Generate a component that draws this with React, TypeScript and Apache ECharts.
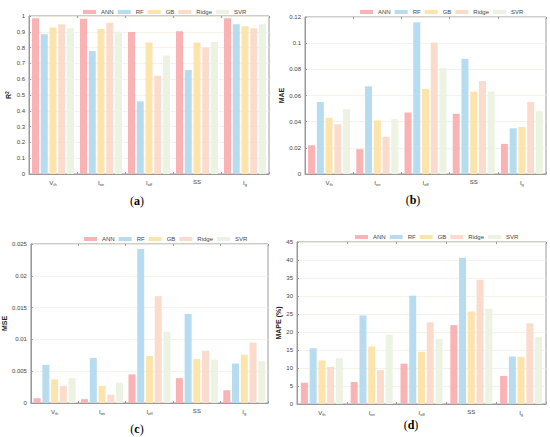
import React, { useEffect, useRef } from "react";
import * as echarts from "echarts";

const categories = ["V|th", "I|on", "I|off", "SS", "I|g"];
const models = ["ANN", "RF", "GB", "Ridge", "SVR"];
const colors = ["#f9b3b5", "#b7dcf0", "#fde4ad", "#fbdccc", "#edf3e2"];

// R2 per model (values over categories)
const r2ANN = [0.985, 0.982, 0.898, 0.903, 0.985];
const r2RF = [0.885, 0.778, 0.46, 0.658, 0.948];
const r2GB = [0.928, 0.918, 0.833, 0.833, 0.935];
const r2Ridge = [0.948, 0.958, 0.622, 0.8, 0.922];
const r2SVR = [0.922, 0.9, 0.75, 0.835, 0.947];

const maeANN = [0.022, 0.019, 0.047, 0.046, 0.023];
const maeRF = [0.055, 0.067, 0.116, 0.088, 0.035];
const maeGB = [0.043, 0.041, 0.065, 0.063, 0.036];
const maeRidge = [0.038, 0.0285, 0.1005, 0.071, 0.055];
const maeSVR = [0.0497, 0.042, 0.081, 0.063, 0.048];

const mseANN = [0.00075, 0.0006, 0.0045, 0.0039, 0.002];
const mseRF = [0.006, 0.0071, 0.0242, 0.014, 0.0062];
const mseGB = [0.0037, 0.0027, 0.0074, 0.0069, 0.0076];
const mseRidge = [0.0027, 0.0013, 0.0168, 0.0082, 0.0095];
const mseSVR = [0.0039, 0.0032, 0.0112, 0.0068, 0.0066];

const mapeANN = [5.9, 6.1, 11.2, 21.9, 7.8];
const mapeRF = [15.5, 24.6, 30.1, 40.6, 13.2];
const mapeGB = [12.1, 16.0, 14.5, 25.7, 13.1];
const mapeRidge = [10.3, 9.4, 22.7, 34.5, 22.4];
const mapeSVR = [12.7, 19.2, 18.1, 26.4, 18.6];

const panels = [
  { name: "R{sup|2}", min: 0, max: 1, interval: 0.1, data: [r2ANN, r2RF, r2GB, r2Ridge, r2SVR], label: "a", grid: { left: 29, top: 16, width: 240, height: 158 }, nameGap: 16, legendTop: 4, legendLeft: 78, labelPos: [137, 201] },
  { name: "MAE", min: 0, max: 0.12, interval: 0.02, data: [maeANN, maeRF, maeGB, maeRidge, maeSVR], label: "b", grid: { left: 305, top: 17, width: 241, height: 157 }, nameGap: 16, legendTop: 4, legendLeft: 355, labelPos: [413, 200] },
  { name: "MSE", min: 0, max: 0.025, interval: 0.005, data: [mseANN, mseRF, mseGB, mseRidge, mseSVR], label: "c", grid: { left: 28, top: 244, width: 240, height: 159 }, nameGap: 20, legendTop: 231, legendLeft: 79, labelPos: [137, 429] },
  { name: "MAPE (%)", min: 0, max: 45, interval: 5, data: [mapeANN, mapeRF, mapeGB, mapeRidge, mapeSVR], label: "d", grid: { left: 297, top: 242, width: 249, height: 162 }, nameGap: 13, legendTop: 229, legendLeft: 350, labelPos: [411, 425] },
];

const font = "Liberation Sans, Arial, sans-serif";

export default function App() {
  const ref = useRef<HTMLDivElement>(null);
  useEffect(() => {
    const chart = echarts.init(ref.current!, null, { renderer: "svg" });
    const grids: any[] = [];
    const xAxes: any[] = [];
    const yAxes: any[] = [];
    const series: any[] = [];
    const legends: any[] = [];
    const graphics: any[] = [];
    panels.forEach((p, i) => {
      grids.push({ ...p.grid, show: true, borderColor: "#9a9a9a", borderWidth: 1, backgroundColor: "transparent" });
      xAxes.push({
        type: "category",
        gridIndex: i,
        data: categories,
        axisLine: { lineStyle: { color: "#9a9a9a" } },
        axisTick: { show: true, inside: true, length: 2, lineStyle: { color: "#9a9a9a" } },
        axisLabel: {
          interval: 0,
          margin: 5,
          color: "#444",
          formatter: (v: string) => {
            const [m, s] = v.split("|");
            return s ? `{m|${m}}{s|${s}}` : `{m|${m}}`;
          },
          rich: {
            m: { fontSize: 6, fontFamily: font, color: "#444" },
            s: { fontSize: 4, fontFamily: font, color: "#444", padding: [3, 0, 0, 0] },
          },
        },
      });
      xAxes.push({
        type: "category",
        gridIndex: i,
        position: "top",
        data: categories,
        axisLine: { show: false },
        axisTick: { show: true, inside: true, length: 2, lineStyle: { color: "#9a9a9a" } },
        axisLabel: { show: false },
      });
      yAxes.push({
        type: "value",
        gridIndex: i,
        min: p.min,
        max: p.max,
        interval: p.interval,
        name: p.name,
        nameLocation: "middle",
        nameGap: p.nameGap,
        nameRotate: 90,
        nameTextStyle: {
          fontSize: 7,
          fontWeight: "bold",
          fontFamily: font,
          color: "#222",
          rich: { sup: { fontSize: 5, fontWeight: "bold", fontFamily: font, padding: [0, 0, 4, 0] } },
        },
        axisLine: { show: true, lineStyle: { color: "#9a9a9a" } },
        axisTick: { show: true, inside: true, length: 2, lineStyle: { color: "#9a9a9a" } },
        axisLabel: {
          fontSize: 6,
          fontFamily: font,
          color: "#444",
          margin: 4,
          formatter: (v: number) => String(+v.toFixed(4)),
        },
        splitLine: { show: true, lineStyle: { color: "#f3efe2", width: 0.8 } },
      });
      models.forEach((m, k) => {
        series.push({
          type: "bar",
          name: m,
          xAxisIndex: i * 2,
          yAxisIndex: i,
          data: p.data[k],
          barWidth: 7,
          barGap: "25%",
          itemStyle: { color: colors[k] },
        });
      });
      legends.push({
        data: models,
        top: p.legendTop,
        left: p.legendLeft,
        itemWidth: 13,
        itemHeight: 4,
        itemGap: 4,
        icon: "rect",
        textStyle: { fontSize: 6, fontFamily: font, color: "#444" },
        selectedMode: false,
      });
      graphics.push({
        type: "text",
        x: p.labelPos[0],
        y: p.labelPos[1],
        style: {
          text: `({b|${p.label}})`,
          font: "12px 'Liberation Serif', serif",
          fill: "#000",
          align: "center",
          verticalAlign: "middle",
          rich: { b: { font: "bold 12px 'Liberation Serif', serif", fill: "#000" } },
        },
      });
    });
    chart.setOption({
      animation: false,
      backgroundColor: "#fff",
      grid: grids,
      xAxis: xAxes,
      yAxis: yAxes,
      series,
      legend: legends,
      graphic: graphics,
    });
    return () => chart.dispose();
  }, []);
  return <div ref={ref} style={{ position: "absolute", left: 0, top: 0, width: 550, height: 437 }} />;
}
